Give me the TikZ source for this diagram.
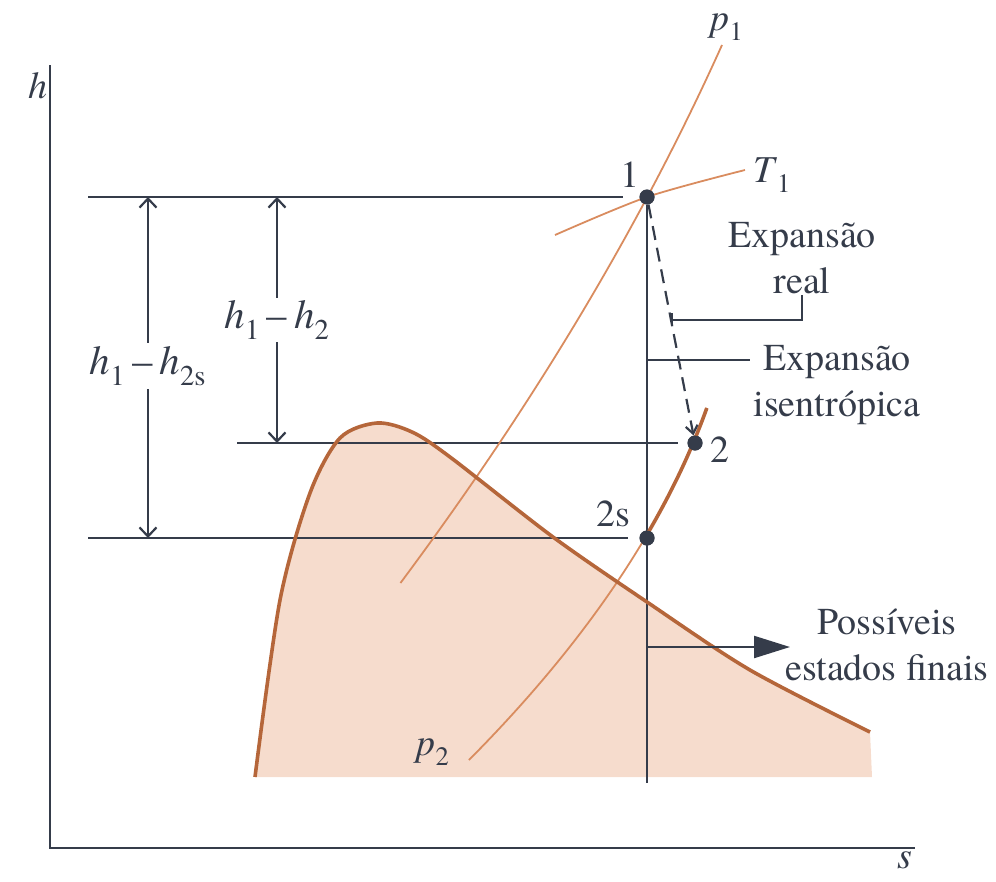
\documentclass[tikz,border=0pt]{standalone}
\usepackage{fontspec}
\setmainfont{texgyretermes}[Extension=.otf,UprightFont=*-regular,ItalicFont=*-italic,BoldFont=*-bold,BoldItalicFont=*-bolditalic]
\usetikzlibrary{arrows.meta}
\definecolor{dk}{HTML}{353C4A}
\definecolor{orT}{HTML}{B5663A}
\definecolor{orL}{HTML}{D98C5F}
\definecolor{pch}{HTML}{F6DCCD}
\newcommand{\hv}[1]{\textit{h}\textsubscript{#1}}
\begin{document}
\begin{tikzpicture}[x=1pt,y=-1pt,
  dkline/.style={draw=dk,line width=2.2pt},
  thinor/.style={draw=orL,line width=1.8pt},
  thickor/.style={draw=orT,line width=3.6pt},
  dot/.style={circle,fill=dk,inner sep=0pt,minimum size=15pt},
  lbl/.style={text=dk,font=\fontsize{38}{46}\selectfont,inner sep=1pt,align=center},
  mlbl/.style={text=dk,font=\fontsize{41}{46}\selectfont,fill=white,inner sep=3pt},
  dim/.style={dkline,{Straight Barb[length=9pt,width=17pt]}-{Straight Barb[length=9pt,width=17pt]}},
]
\useasboundingbox (0,0) rectangle (996,881);

% two-phase dome fill
\fill[pch] plot[smooth] coordinates {(255,777) (280,600) (310,493) (340,438) (377,423) (412,432) (450,457) (553,537) (647,602) (750,670) (870,732)} -- (872,777) -- (255,777) -- cycle;

% axes
\coordinate (ytop) at (50,65);
\coordinate (orig) at (50,848);
\coordinate (xend) at (915,848);
\draw[dkline] (ytop) -- (orig) -- (xend);
\node[lbl] (hlab) at (38,86) {\textit{h}};
\node[lbl] (slab) at (905,860) {\textit{s}};

% state points
\node[dot] (P1) at (647,197) {};
\node[dot] (P2) at (695,443) {};
\node[dot] (P2s) at (647,538) {};

% horizontal reference lines
\coordinate (a1) at (88,197);  \coordinate (b1) at (623,197);
\coordinate (a2) at (237,443); \coordinate (b2) at (678,443);
\coordinate (a3) at (88,538);  \coordinate (b3) at (628,538);
\draw[dkline] (a1) -- (b1);
\draw[dkline] (a2) -- (b2);
\draw[dkline] (a3) -- (b3);

% isentropic vertical
\coordinate (vbot) at (647,783);
\draw[dkline] (P1) -- (vbot);

% dimension arrows
\coordinate (d1t) at (148,197); \coordinate (d1b) at (148,538);
\coordinate (d2t) at (277,197); \coordinate (d2b) at (277,443);
\draw[dim] (d1t) -- (d1b);
\draw[dim] (d2t) -- (d2b);
\node[mlbl] (dh1) at (148,366) {\hv{1}\,–\,\hv{2s}};
\node[mlbl] (dh2) at (277,320) {\hv{1}\,–\,\hv{2}};

% pressure / temperature lines
\draw[thinor] plot[domain=45:583,samples=60,variable=\t] ({741.7-0.4252*\t-0.0002817*\t*\t},\t);
\draw[thinor] plot[smooth] coordinates {(555,235) (647,197) (745,170)};
\draw[thinor] plot[domain=408:760,samples=60,variable=\t] ({703.4+0.3757*\t-0.000893*\t*\t},\t);
\draw[thickor] plot[domain=408:538,samples=30,variable=\t] ({703.4+0.3757*\t-0.000893*\t*\t},\t);

% dome line
\draw[thickor] plot[smooth] coordinates {(255,777) (280,600) (310,493) (340,438) (377,423) (412,432) (450,457) (553,537) (647,602) (750,670) (870,732)};

% redraw dots on top
\node[dot] at (P1) {};
\node[dot] at (P2) {};
\node[dot] at (P2s) {};

% real expansion (dashed)
\draw[dkline,dash pattern=on 14pt off 8pt,-{Straight Barb[length=8pt,width=12pt]}] (P1) -- (P2);

% labels
\node[lbl] (l1) at (630,175) {1};
\node[lbl] (l2) at (720,450) {2};
\node[lbl] (l2s) at (613,514) {2s};
\node[lbl] (lp1) at (727,27) {\textit{p}\textsubscript{1}};
\node[lbl] (lT1) at (772,175) {\textit{T}\textsubscript{1}};
\node[lbl] (lp2) at (433,752) {\textit{p}\textsubscript{2}};

% Expansao real
\node[lbl] (ER) at (802,258) {Expansão\\real};
\coordinate (ertick) at (672,320);
\coordinate (ertA) at (672,313);
\coordinate (ertB) at (672,326);
\draw[dkline] (ER.south) |- (ertick);
\draw[dkline] (ertA) -- (ertB);

% Expansao isentropica
\node[lbl] (EI) at (837,385) {Expansão\\isentrópica};
\coordinate (eia) at (647,360);
\coordinate (eib) at (750,360);
\draw[dkline] (eia) -- (eib);

% Possiveis estados finais
\node[lbl] (PF) at (887,645) {Possíveis\\estados finais};
\coordinate (pfa) at (647,647);
\coordinate (pfb) at (790,647);
\draw[dkline,-{Triangle[length=36pt,width=22pt]}] (pfa) -- (pfb);
\end{tikzpicture}
\end{document}
